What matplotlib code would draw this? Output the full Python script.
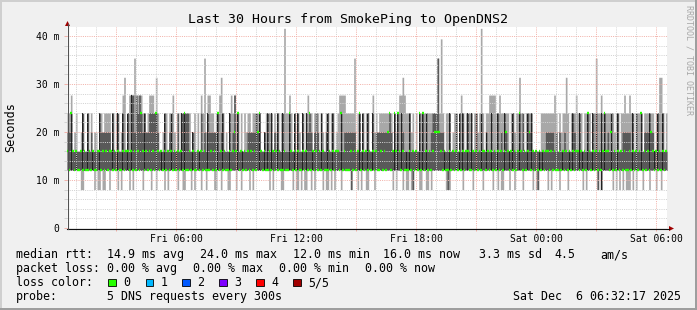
"""SmokePing style latency chart: last 30 hours to OpenDNS2 (rrdtool look)."""

import matplotlib

matplotlib.use("Agg")
import matplotlib.pyplot as plt
import numpy as np
from matplotlib.patches import Polygon, Rectangle
from matplotlib.ticker import FixedLocator, MultipleLocator

W, H = 697, 310
MONO = "DejaVu Sans Mono"

# rrdtool-ish palette
BACK = "#f0f0f0"
SHADEA = "#cfcfcf"
SHADEB = "#9e9e9e"
GRID = "#d2d2d2"
MGRID = "#f2b2aa"
AXIS = "#101010"
ARROW = "#a00000"
LIGHT = "#a8a8a8"   # outer smoke (ping 1..5)
MID = "#595959"     # inner smoke (ping 2..4)
DARK = "#222222"
GREEN = "#26ff00"

# ---- data: one char per 5-minute sample, 360 samples (30 h) ----
# level codes -> milliseconds
LEVEL = {"2": 8.0, "3": 12.0, "4": 16.0, "5": 20.0, "6": 24.0,
         "7": 27.7, "8": 31.4, "9": 35.4, "A": 39.4, "B": 41.6}

PING_LO = "".join([  # fastest ping
    "333333332233", "333323223223", "323333232333", "323233333233",
    "332332333323", "233333233223", "332323332332", "333322332333",
    "223332332333", "323233333333", "323233332233", "333232232322",
    "332323333232", "232323332333", "332333232332", "233323333333",
    "333232333232", "232233322332", "232333333332", "223333333233",
    "333233333233", "333233232233", "323323333233", "333232233333",
    "232333323333", "233333333232", "333333232333", "333232323232",
    "223232333233", "323332332333",
])
PING_2 = "".join([  # second fastest
    "333333333333", "333333333333", "333333333333", "333333333333",
    "333333333333", "333333333333", "333333333333", "333333333333",
    "333333333333", "333333333333", "333333333333", "333333333333",
    "333333333333", "333333333333", "332333333333", "333333333333",
    "333333333333", "333233333333", "333333333333", "233333333333",
    "333333333333", "333333333333", "333333333333", "333333233333",
    "333333333333", "333333333333", "333333232333", "333333333333",
    "333333333333", "333333333333",
])
MEDIAN = "".join([
    "436434334343", "343433443434", "344343433434", "434343436434",
    "343436434343", "434343434363", "343433434343", "334343634343",
    "343454634343", "434343564343", "343434343343", "364343433434",
    "363434343433", "343434436343", "334343463434", "343434334343",
    "563464643433", "343434363634", "343455554343", "343434343434",
    "433434343443", "434343434345", "434343464343", "453434343434",
    "434343343434", "343434434343", "643434343464", "435343434343",
    "343434346343", "435434343434",
])
PING_4 = "".join([  # second slowest
    "556444444644", "645444465555", "554644644644", "647757676565",
    "566666544464", "456444646666", "644544446454", "655555645644",
    "464574644444", "555556564454", "646454644644", "464464644646",
    "565456546445", "644644446455", "555554464644", "644645555555",
    "565464646544", "464444464646", "445666955544", "464446464644",
    "646446446445", "446444645465", "444644464644", "656444444445",
    "555545454454", "444654464444", "644646446464", "546444644555",
    "554646446455", "565544644644",
])
PING_HI = "".join([  # slowest ping
    "667456445644", "646455466566", "664646645784", "677797777665",
    "677768644566", "466754646666", "664564647695", "776656678645",
    "467676646465", "665666664456", "6664656466B6", "676464654646",
    "766466646546", "646645677776", "666694664646", "644756566666",
    "666465677876", "665646466666", "66666696A646", "664566467646",
    "66646656B646", "677776676666", "646656686646", "666444446666",
    "666676465668", "646667656466", "664669667666", "666656646676",
    "676646666466", "666646688646",
])
# samples whose inner smoke renders almost black ('k')
DARK_SAMPLES = "".join([
    "..k..k...k..", "k..k...k....", "...k..k..k..", "k.k.......k.",
    ".....k..k.k.", "..k..k..k.k.", "...k...k....", "k.....k..k..",
    ".k....k..k..", ".....k.k..k.", "k.k...k..k..", ".k..k.k..k.k",
    "...k....k...", "k..k....k...", ".......k.k..", "k..k........",
    "....k.k.k..k", ".k...k.k.k.k", "..........k.", ".k...k.k.k..",
    "k.k..k..k..k", "..k...k...k.", ".k.k...k....", "k.k....k.k..",
    ".........k..", ".k.k...k.k..", "k..k.k..k.k.", "..k...k.....",
    "...k.k..k...", ".k..k.k..k..",
])

FIRST_HOUR = 0.4619          # h from window start (Fri 00:32:17) to 01:00
X_LABELS = ["Fri 06:00", "Fri 12:00", "Fri 18:00", "Sat 00:00", "Sat 06:00"]
Y_TICKS = [0, 10, 20, 30, 40]
Y_LABELS = ["0", "10 m", "20 m", "30 m", "40 m"]

TITLE = "Last 30 Hours from SmokePing to OpenDNS2"
ROW_RTT = [("median rtt:", 16), ("14.9 ms avg", 107.3), ("24.0 ms max", 200),
           ("12.0 ms min", 293.3), ("16.0 ms now", 383.3),
           ("3.3 ms sd", 479.3), ("4.5", 554), ("am/s", 600)]
ROW_LOSS = [("packet loss:", 16), ("0.00 % avg", 107.3), ("0.00 % max", 193.3),
            ("0.00 % min", 279.3), ("0.00 % now", 365)]
LOSS_LABELS = ["0", "1", "2", "3", "4", "5/5"]
LOSS_COLORS = ["#26ff00", "#00b8ff", "#0059ff", "#7e00ff", "#ff0000", "#a10000"]
LOSS_BOX_X = [108.3, 145.7, 182.3, 219, 256, 293.3]
PROBE = "5 DNS requests every 300s"
STAMP = "Sat Dec  6 06:32:17 2025"


def levels(s):
    return np.array([LEVEL[c] for c in s])


def main():
    series = [PING_LO, PING_2, MEDIAN, PING_4, PING_HI, DARK_SAMPLES]
    assert all(len(s) == 360 for s in series), [len(s) for s in series]
    lo, p2, med, p4, hi = (levels(s) for s in series[:5])
    dark = np.array([c == "k" for c in DARK_SAMPLES])

    n = len(lo)
    step = 30.0 / n
    t = np.arange(n + 1) * step

    fig = plt.figure(figsize=(W / 100, H / 100), dpi=100, facecolor=BACK)
    ax = fig.add_axes([67 / W, (H - 228) / H, 600 / W, (228 - 26.7) / H])
    ax.set_facecolor("white")
    ax.set_xlim(0, 30)
    ax.set_ylim(0, (228 - 26.7) / 4.8)

    ext = lambda a: np.append(a, a[-1])
    ax.fill_between(t, ext(lo), ext(hi), step="post", color=LIGHT, lw=0, zorder=1)
    ax.fill_between(t, ext(p2), ext(p4), step="post", color=MID, lw=0, zorder=1.2)
    ax.bar(t[:-1][dark] + 0.15 * step, (p4 - p2)[dark], bottom=p2[dark],
           width=0.7 * step, align="edge", color=DARK, lw=0, zorder=1.4)
    # median marks (green = 0 loss), ~2 px tall per sample
    ax.hlines(med, t[:-1] + 0.05 * step, t[:-1] + 0.95 * step,
              colors=GREEN, lw=1.7, zorder=4)

    # grid + ticks
    majors = [FIRST_HOUR + 2 + 3 * k for k in range(10)]
    ax.xaxis.set_major_locator(FixedLocator(majors))
    ax.xaxis.set_minor_locator(FixedLocator([FIRST_HOUR + k for k in range(30)]))
    ax.set_xticklabels(["" if k % 2 == 0 else X_LABELS[k // 2] for k in range(10)])
    ax.yaxis.set_major_locator(FixedLocator(Y_TICKS))
    ax.yaxis.set_minor_locator(MultipleLocator(2))
    ax.set_yticklabels(Y_LABELS)
    ax.set_axisbelow(False)
    dots = (0, (1, 1.2))
    ax.grid(which="minor", color=GRID, linestyle=dots, lw=0.72)
    ax.grid(which="major", color=MGRID, linestyle=dots, lw=0.72)
    ax.tick_params(axis="x", which="major", length=2.2, width=0.72, color=MGRID,
                   pad=2.0, labelsize=7, labelfontfamily=MONO)
    ax.tick_params(axis="x", which="minor", length=1.5, width=0.72, color=GRID)
    ax.tick_params(axis="y", which="major", length=2.5, width=0.72, color=MGRID,
                   pad=3.0, labelsize=7, labelfontfamily=MONO)
    ax.tick_params(axis="y", which="minor", length=2.5, width=0.72, color=GRID)
    for sp in ax.spines.values():
        sp.set_visible(False)

    # overlay in pixel coordinates: frame, axes arrows, texts, legend
    ov = fig.add_axes([0, 0, 1, 1], zorder=5)
    ov.set_xlim(0, W)
    ov.set_ylim(H, 0)
    ov.axis("off")

    ov.plot([0, W], [1, 1], color=SHADEA, lw=1.44)
    ov.plot([1, 1], [0, H], color=SHADEA, lw=1.44)
    ov.plot([0, W], [H - 1, H - 1], color=SHADEB, lw=1.44)
    ov.plot([W - 1, W - 1], [0, H], color=SHADEB, lw=1.44)

    ov.plot([67, 669], [228.5, 228.5], color=AXIS, lw=0.8)
    ov.plot([67.5, 67.5], [228.5, 24], color="#505050", lw=0.8)
    ov.add_patch(Polygon([(65, 26), (70, 26), (67.5, 21)], closed=True,
                         color=ARROW, lw=0))
    ov.add_patch(Polygon([(669, 226), (669, 231), (674, 228.5)], closed=True,
                         color=ARROW, lw=0))

    ov.text(347.5, 23, TITLE, ha="center", va="baseline", fontsize=9.5,
            family=MONO)
    ov.text(10.8, 127, "Seconds", rotation=90, ha="center", va="center",
            fontsize=8.5, family=MONO)
    ov.text(688.5, 60, "RRDTOOL / TOBI OETIKER", rotation=270, ha="center",
            va="center", fontsize=6, family=MONO, color="#a8a8a8")

    leg = dict(ha="left", va="baseline", fontsize=8.4, family=MONO)
    for s, x in ROW_RTT:
        ov.text(x, 258, s, **leg)
    for s, x in ROW_LOSS:
        ov.text(x, 272, s, **leg)
    ov.text(16, 286, "loss color:", **leg)
    for lab, col, x in zip(LOSS_LABELS, LOSS_COLORS, LOSS_BOX_X):
        ov.add_patch(Rectangle((x, 278.5), 7.5, 7.5, facecolor=col,
                               edgecolor="black", lw=0.6))
        ov.text(x + 15, 286, lab, **leg)
    ov.text(16, 300, "probe:", **leg)
    ov.text(107.3, 300, PROBE, **leg)
    ov.text(513.3, 300, STAMP, **leg)

    fig.savefig("out.png", dpi=100, facecolor=BACK)


if __name__ == "__main__":
    main()
